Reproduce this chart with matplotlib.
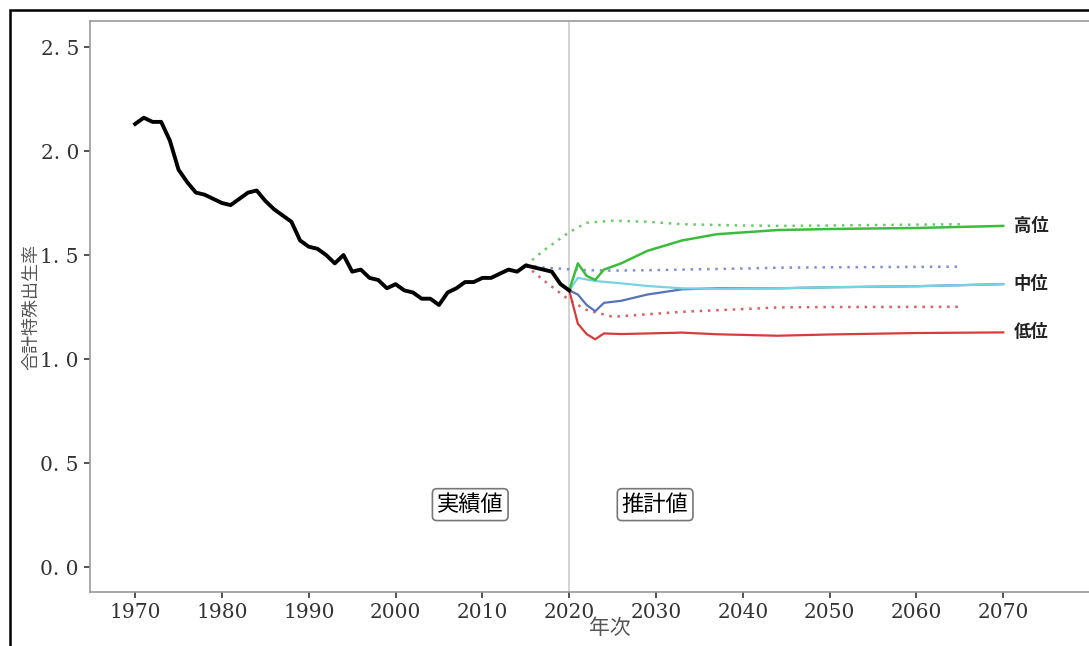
import matplotlib
matplotlib.use("Agg")
import matplotlib.pyplot as plt
from matplotlib.patches import Rectangle

plt.rcParams['font.family'] = ['Noto Sans CJK JP', 'DejaVu Sans']

# --- data: actual TFR 1970-2020 ---
actual_years = list(range(1970, 2021))
actual_tfr = [2.13, 2.16, 2.14, 2.14, 2.05, 1.91, 1.85, 1.80, 1.79, 1.77,
              1.75, 1.74, 1.77, 1.80, 1.81, 1.76, 1.72, 1.69, 1.66, 1.57,
              1.54, 1.53, 1.50, 1.46, 1.50, 1.42, 1.43, 1.39, 1.38, 1.34,
              1.36, 1.33, 1.32, 1.29, 1.29, 1.26, 1.32, 1.34, 1.37, 1.37,
              1.39, 1.39, 1.41, 1.43, 1.42, 1.45, 1.44, 1.43, 1.42, 1.36,
              1.33]

# --- new projection (solid) ---
new_years = [2020, 2021, 2022, 2023, 2024, 2026, 2029, 2033, 2037, 2044, 2050, 2060, 2070]
new_high = [1.33, 1.46, 1.40, 1.38, 1.43, 1.46, 1.52, 1.57, 1.60, 1.62, 1.625, 1.63, 1.64]
new_mid = [1.33, 1.31, 1.26, 1.23, 1.27, 1.28, 1.31, 1.335, 1.34, 1.34, 1.345, 1.35, 1.36]
new_low = [1.33, 1.17, 1.12, 1.095, 1.123, 1.12, 1.123, 1.127, 1.119, 1.112, 1.118, 1.125, 1.128]
alt_years = [2020, 2021, 2023, 2026, 2029, 2033, 2037, 2044, 2050, 2060, 2070]
alt_mid = [1.33, 1.39, 1.375, 1.364, 1.351, 1.34, 1.337, 1.34, 1.345, 1.35, 1.36]

# --- previous projection (dotted) ---
old_years = [2015, 2017, 2020, 2022, 2025, 2029, 2033, 2040, 2044, 2050, 2065]
old_high = [1.45, 1.52, 1.61, 1.655, 1.665, 1.66, 1.648, 1.642, 1.64, 1.642, 1.648]
old_mid = [1.45, 1.44, 1.431, 1.427, 1.425, 1.427, 1.43, 1.435, 1.439, 1.441, 1.444]
old_low = [1.45, 1.38, 1.284, 1.236, 1.203, 1.215, 1.227, 1.24, 1.248, 1.25, 1.251]

yticks = [0.0, 0.5, 1.0, 1.5, 2.0, 2.5]
ytick_labels = ['0. 0', '0. 5', '1. 0', '1. 5', '2. 0', '2. 5']
xticks = list(range(1970, 2071, 10))

W, H = 1089, 646
fig = plt.figure(figsize=(W / 100, H / 100), dpi=100)
ax = fig.add_axes([90 / W, 54 / H, (1130 - 90) / W, (592 - 21) / H])

ax.axvline(2020, color='#cccccc', linewidth=1.2, zorder=1)

dot = (0, (1, 2.3))
ax.plot(old_years, old_high, color='#66cc66', linestyle=dot, linewidth=1.8)
ax.plot(old_years, old_mid, color='#7f8fd0', linestyle=dot, linewidth=1.8)
ax.plot(old_years, old_low, color='#d96060', linestyle=dot, linewidth=1.8)

ax.plot(new_years, new_low, color='#d63c3c', linewidth=1.6)
ax.plot(new_years, new_mid, color='#5573b8', linewidth=1.6)
ax.plot(alt_years, alt_mid, color='#74d4e4', linewidth=1.6)
ax.plot(new_years, new_high, color='#3cbc3c', linewidth=1.8)

ax.plot(actual_years, actual_tfr, color='black', linewidth=2.8, zorder=5)

for val, lab in [(new_high[-1], '高位'), (new_mid[-1], '中位'), (new_low[-1], '低位')]:
    ax.text(2071.2, val, lab, fontsize=12.5, fontweight='bold', va='center', ha='left', color='#222222')

box = dict(boxstyle='round,pad=0.2', facecolor='white', edgecolor='#777777', linewidth=1.2)
ax.text(2008.6, 0.30, '実績値', fontsize=16, ha='center', va='center', bbox=box)
ax.text(2029.9, 0.30, '推計値', fontsize=16, ha='center', va='center', bbox=box)

ax.set_xlim(1964.8, 2084.6)
ax.set_ylim(-0.12, 2.625)
ax.set_xticks(xticks)
ax.set_xticklabels([str(x) for x in xticks], family='DejaVu Serif', fontsize=14.5, color='#333333')
ax.set_yticks(yticks)
ax.set_yticklabels(ytick_labels, family='DejaVu Serif', fontsize=14.5, color='#333333')
ax.tick_params(direction='out', length=4, width=1.2, color='#333333', pad=4)

for s in ax.spines.values():
    s.set_color('#999999')
    s.set_linewidth(1.2)
ax.spines['right'].set_visible(False)

ax.set_ylabel('合計特殊出生率', fontsize=13, color='#555555', labelpad=0)
ax.set_xlabel('年次', fontsize=15, color='#555555', labelpad=-4)

# outer frame of the original figure (cropped on the right and bottom)
fig.patches.append(Rectangle((10 / W, -0.1), 1.2, (H - 10) / H + 0.1, transform=fig.transFigure,
                             fill=False, edgecolor='black', linewidth=1.8))

fig.savefig('out.png', dpi=100)
